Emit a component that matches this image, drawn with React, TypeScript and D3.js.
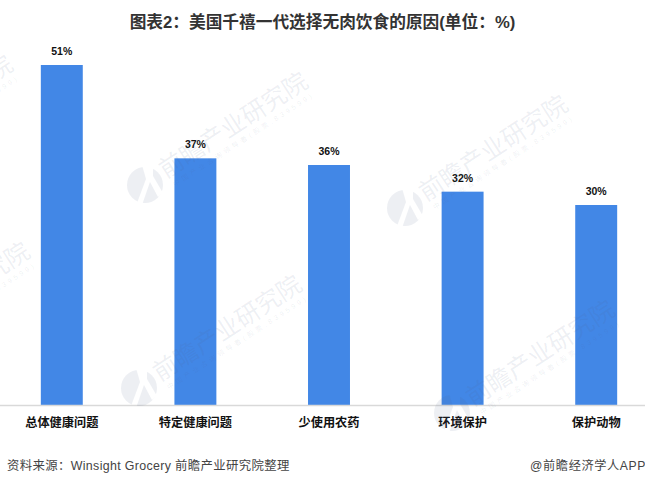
import React, { useEffect, useRef } from 'react';
import * as d3 from 'd3';

const categories = ['总体健康问题', '特定健康问题', '少使用农药', '环境保护', '保护动物'];
const values = [51, 37, 36, 32, 30];

const titleText = '图表2：美国千禧一代选择无肉饮食的原因(单位：%)';
const sourceText = '资料来源：Winsight Grocery 前瞻产业研究院整理';
const creditText = '@前瞻经济学人APP';
const markName = '前瞻产业研究院';
const markSub = '中国产业咨询领导者(股票:839599)';
// logo centres of the repeated watermark
const markX = [-150, 145, 405, -133, 139, 452];
const markY = [168, 185, 208, 355, 388, 413];

const width = 645;
const height = 486;
const cjk = '"Liberation Sans", "Noto Sans CJK SC", sans-serif';

const App: React.FC = () => {
  const ref = useRef<SVGSVGElement>(null);

  useEffect(() => {
    const svg = d3.select(ref.current);
    svg.selectAll('*').remove();

    const x = d3.scaleBand<string>().domain(categories).range([-5, 663]).paddingInner(0.686).paddingOuter(0.343);
    const y = d3.scaleLinear().domain([0, 51]).range([405, 65]);

    svg.append('rect').attr('width', width).attr('height', height).attr('fill', '#fff');

    svg.append('text')
      .attr('x', 322.5)
      .attr('y', 28)
      .attr('text-anchor', 'middle')
      .attr('font-family', cjk)
      .attr('font-size', 16.7)
      .attr('font-weight', 700)
      .attr('fill', '#333')
      .text(titleText);

    // Bars
    svg.selectAll('.bar')
      .data(values)
      .enter().append('rect')
      .attr('class', 'bar')
      .attr('x', (d, i) => x(categories[i])!)
      .attr('y', d => y(d))
      .attr('width', x.bandwidth())
      .attr('height', d => y(0) - y(d))
      .attr('fill', '#4287e6');

    svg.selectAll('.value')
      .data(values)
      .enter().append('text')
      .attr('class', 'value')
      .attr('x', (d, i) => x(categories[i])! + x.bandwidth() / 2)
      .attr('y', d => y(d) - 10)
      .attr('text-anchor', 'middle')
      .attr('font-family', cjk)
      .attr('font-size', 10.5)
      .attr('font-weight', 700)
      .attr('fill', '#111')
      .text(d => `${d}%`);

    // Axis
    const axis = svg.append('g')
      .attr('transform', `translate(0,${y(0)})`)
      .call(d3.axisBottom(x).tickSize(0).tickPadding(8.5));
    axis.select('.domain').attr('stroke', '#d9d9d9').attr('stroke-width', 1.5);
    axis.selectAll('text')
      .attr('font-family', cjk)
      .attr('font-size', 12.2)
      .attr('font-weight', 700)
      .attr('fill', '#111')
      .attr('dy', '1.1em');

    // Watermark sits on top of the bars
    const defs = svg.append('defs');
    const mask = defs.append('mask').attr('id', 'logo-cut');
    mask.append('rect').attr('x', -30).attr('y', -30).attr('width', 60).attr('height', 60).attr('fill', '#fff');
    mask.append('path')
      .attr('d', 'M-3,-20 L1,-6 L-8,18 L-3,20 L5,-3 L13,12 L18,8 L8,-9 L8,-20 Z')
      .attr('fill', '#000');

    const marks = svg.selectAll('.mark')
      .data(markX)
      .enter().append('g')
      .attr('class', 'mark')
      .attr('transform', (d, i) => `translate(${d},${markY[i]})`)
      .attr('fill', '#52658a')
      .attr('fill-opacity', 0.1);

    marks.append('circle').attr('r', 18).attr('mask', 'url(#logo-cut)');

    marks.append('text')
      .attr('transform', 'translate(21,-6) rotate(-33)')
      .attr('font-family', cjk)
      .attr('font-size', 24.5)
      .attr('font-weight', 400)
      .text(markName);

    marks.append('text')
      .attr('transform', 'translate(30,2) rotate(-33)')
      .attr('font-family', cjk)
      .attr('font-size', 7)
      .attr('letter-spacing', 3)
      .text(markSub);

    // Footer
    svg.append('text')
      .attr('x', 7)
      .attr('y', 470)
      .attr('font-family', cjk)
      .attr('font-size', 12.4)
      .attr('letter-spacing', 0.35)
      .attr('fill', '#444')
      .text(sourceText);

    svg.append('text')
      .attr('x', 646)
      .attr('y', 470)
      .attr('text-anchor', 'end')
      .attr('font-family', cjk)
      .attr('font-size', 12.2)
      .attr('letter-spacing', 0.6)
      .attr('fill', '#444')
      .text(creditText);
  }, []);

  return (
    <svg
      ref={ref}
      width={width}
      height={height}
      style={{ position: 'absolute', left: 0, top: 0, display: 'block' }}
    />
  );
};

export default App;
